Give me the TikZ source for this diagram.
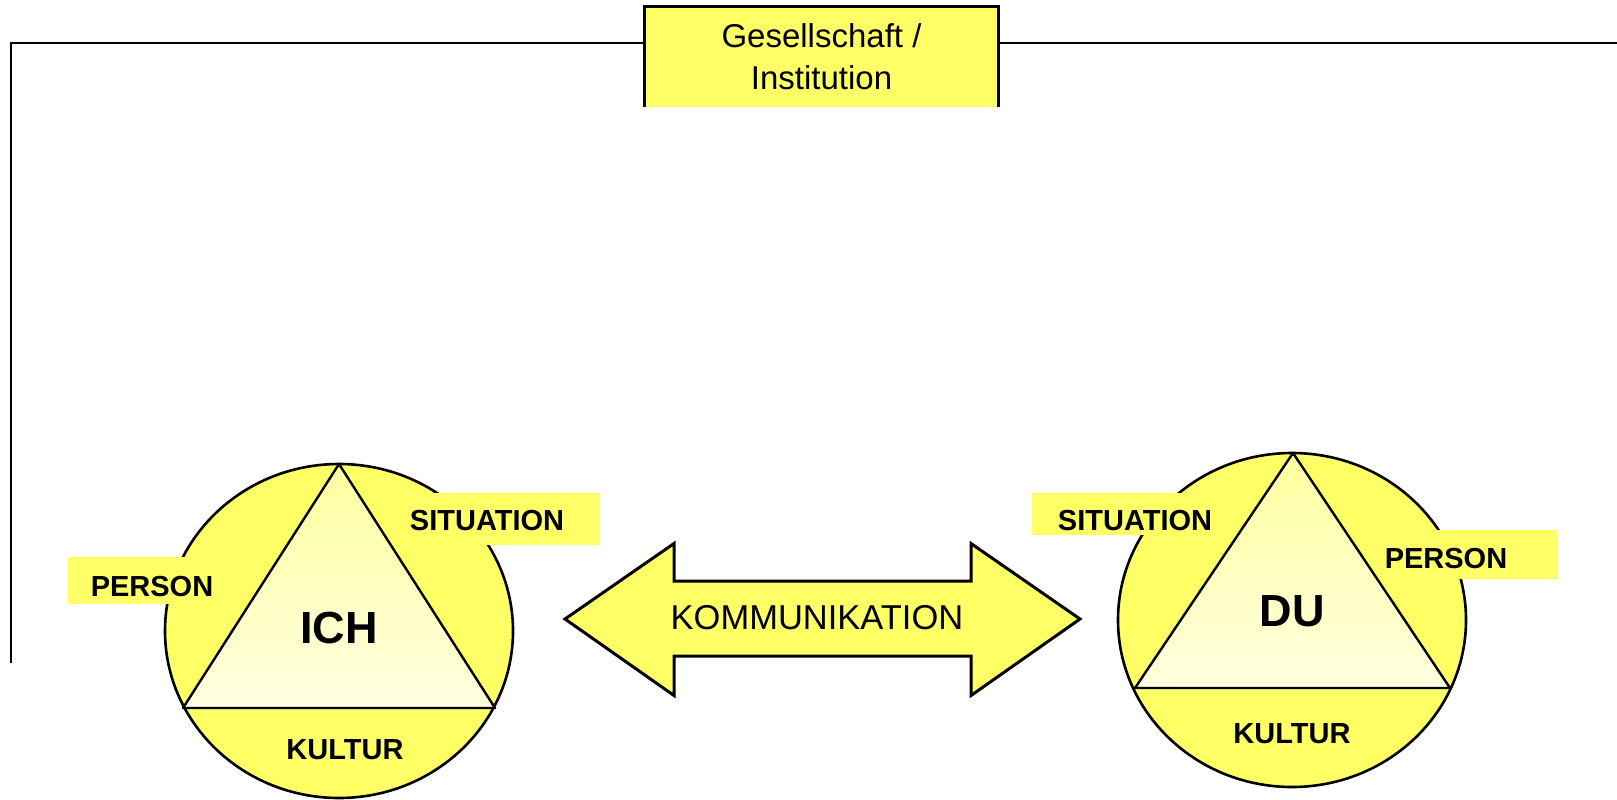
\documentclass[tikz,border=0pt]{standalone}
\usepackage{fontspec}
\setmainfont{Liberation Sans}
\usetikzlibrary{shapes.geometric}
\definecolor{yel}{RGB}{255,255,102}
\definecolor{trihi}{RGB}{255,255,160}
\definecolor{trilo}{RGB}{255,255,225}
\tikzset{
  frameline/.style={draw=black, line width=2pt},
  instbox/.style={fill=yel, draw=none, inner sep=0pt, minimum width=353, minimum height=100,
    align=center, font=\fontsize{33}{42}\selectfont},
  circ/.style={ellipse, fill=yel, draw=black, line width=2.6pt, inner sep=0pt,
    minimum width=348, minimum height=334},
  lblbox/.style={fill=yel, draw=none, inner sep=0pt, rectangle},
  trishade/.style={top color=trihi, bottom color=trilo},
  triline/.style={draw=black, line width=2.4pt, line join=round},
  lbl/.style={inner sep=0pt, font=\fontsize{29}{30}\selectfont\bfseries},
  bigt/.style={inner sep=0pt, font=\fontsize{45}{48}\selectfont\bfseries},
  komm/.style={inner sep=0pt, font=\fontsize{34.5}{36}\selectfont},
  arrowshape/.style={fill=yel, draw=black, line width=3pt, line join=miter}
}
\begin{document}
\begin{tikzpicture}[x=1pt,y=-1pt]
\useasboundingbox (0,0) rectangle (1617,800);
\fill[white] (0,0) rectangle (1617,800);
% frame
\coordinate (fbot) at (11,663);
\coordinate (fcorner) at (11,43);
\coordinate (fend) at (1617,43);
\draw[frameline] (fbot) -- (fcorner) -- (fend);
\node[instbox] (inst) at (821.5,57) {Gesellschaft /\\Institution};
\draw[line width=2.8pt] (inst.south west) -- (inst.north west) -- (inst.north east) -- (inst.south east);
% circles
\node[circ] (cL) at (339,631) {};
\node[circ] (cR) at (1292,620) {};
% label boxes
\node[lblbox, minimum width=148, minimum height=47] (pLb) at (142,580.5) {};
\node[lblbox, minimum width=205, minimum height=52] (sLb) at (497.5,519) {};
\node[lblbox, minimum width=198, minimum height=42] (sRb) at (1131,514) {};
\node[lblbox, minimum width=188, minimum height=49] (pRb) at (1464,554.5) {};
% triangles
\coordinate (tLa) at (339,464);
\coordinate (tLb) at (183,708);
\coordinate (tLc) at (495,708);
\coordinate (tRa) at (1293,453);
\coordinate (tRb) at (1135,688);
\coordinate (tRc) at (1450,688);
\shade[trishade] (tLa) -- (tLb) -- (tLc) -- cycle;
\draw[triline] (tLa) -- (tLb) -- (tLc) -- cycle;
\shade[trishade] (tRa) -- (tRb) -- (tRc) -- cycle;
\draw[triline] (tRa) -- (tRb) -- (tRc) -- cycle;
% texts
\node[bigt] (ich) at (339,628) {ICH};
\node[bigt] (du) at (1292,611) {DU};
\node[lbl] (pL) at (152,587) {PERSON};
\node[lbl] (sL) at (487,521) {SITUATION};
\node[lbl] (kL) at (345,749.5) {KULTUR};
\node[lbl] (sR) at (1135,521) {SITUATION};
\node[lbl] (pR) at (1446,559) {PERSON};
\node[lbl] (kR) at (1292,734) {KULTUR};
% double arrow
\draw[arrowshape] (565,619) -- (674,543.5) -- (674,581) -- (971,581) -- (971,543.5)
  -- (1080,619) -- (971,695.5) -- (971,656) -- (674,656) -- (674,695.5) -- cycle;
\node[komm] (kom) at (817,618) {KOMMUNIKATION};
\end{tikzpicture}
\end{document}
